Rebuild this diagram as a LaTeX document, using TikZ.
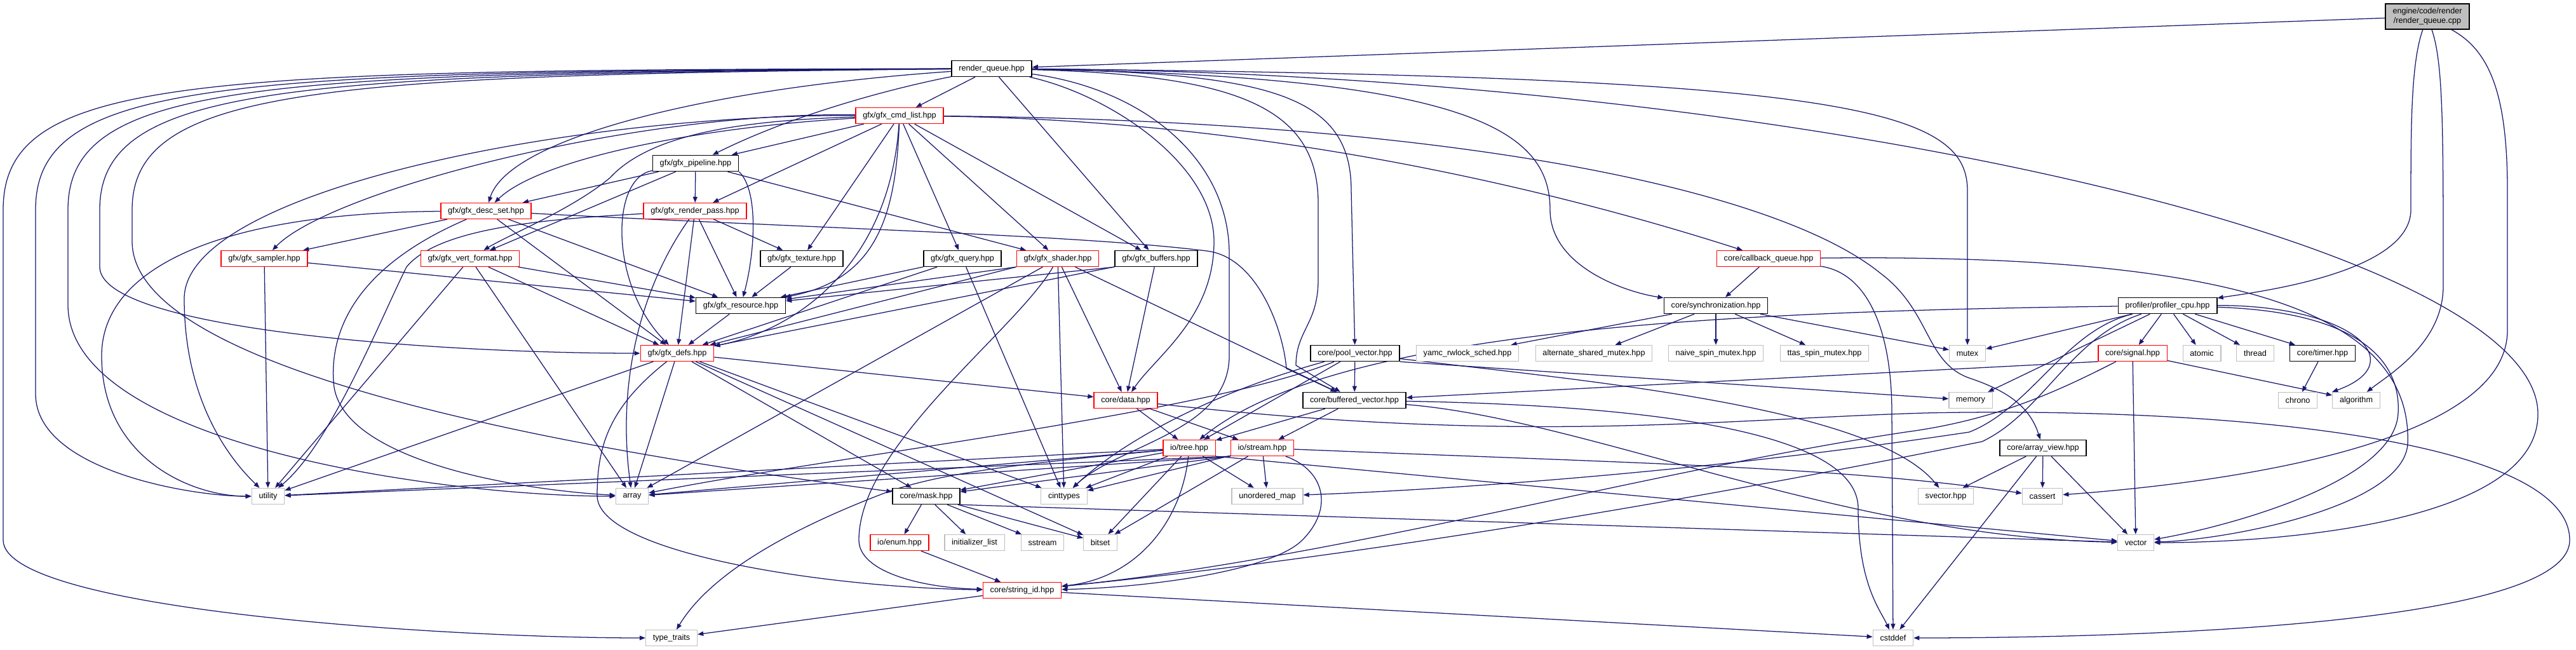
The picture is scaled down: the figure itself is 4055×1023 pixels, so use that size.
\documentclass[tikz,border=0pt]{standalone}
\usepackage{fontspec}
\setmainfont{Liberation Sans}
\usetikzlibrary{arrows.meta,backgrounds}
\definecolor{edgeblue}{HTML}{191970}
\definecolor{sysgray}{HTML}{BFBFBF}

\begin{document}
\begin{tikzpicture}[x=0.025cm, y=-0.025cm,
  nd/.style={rectangle, draw, fill=white, font=\fontsize{9}{10.5}\selectfont, inner xsep=8pt, inner ysep=0pt, minimum height=0.625cm},
  hdr/.style={nd, draw=black, line width=1.1pt},
  trunc/.style={nd, draw=red, line width=0.9pt},
  sys/.style={nd, draw=sysgray, line width=0.9pt},
  dep/.style={draw=edgeblue, line width=0.9pt, -{Triangle[length=6.5pt,width=5pt]}}]
\useasboundingbox (0,0) rectangle (4055,1023);

\node[nd, fill=sysgray, draw=black, line width=1.1pt, align=center, minimum height=1cm] (cpp) at (3821,26) {engine/code/render\\/render\_queue.cpp};
\node[hdr] (rqh) at (1561,108) {render\_queue.hpp};
\node[trunc] (cmd) at (1416,182) {gfx/gfx\_cmd\_list.hpp};
\node[hdr] (pipe) at (1095,257) {gfx/gfx\_pipeline.hpp};
\node[trunc] (desc) at (765,332) {gfx/gfx\_desc\_set.hpp};
\node[trunc] (rpass) at (1094,332) {gfx/gfx\_render\_pass.hpp};
\node[trunc] (sampler) at (416,407) {gfx/gfx\_sampler.hpp};
\node[trunc] (vfmt) at (740,407) {gfx/gfx\_vert\_format.hpp};
\node[hdr] (tex) at (1262,407) {gfx/gfx\_texture.hpp};
\node[hdr] (query) at (1515,407) {gfx/gfx\_query.hpp};
\node[trunc] (shader) at (1665,407) {gfx/gfx\_shader.hpp};
\node[hdr] (buffers) at (1820,407) {gfx/gfx\_buffers.hpp};
\node[trunc] (cbq) at (2784,407) {core/callback\_queue.hpp};
\node[hdr] (res) at (1166,481) {gfx/gfx\_resource.hpp};
\node[hdr] (sync) at (2701,481) {core/synchronization.hpp};
\node[hdr] (prof) at (3412,481) {profiler/profiler\_cpu.hpp};
\node[trunc] (defs) at (1066,556) {gfx/gfx\_defs.hpp};
\node[hdr] (pool) at (2133,556) {core/pool\_vector.hpp};
\node[sys] (yamc) at (2310,556) {yamc\_rwlock\_sched.hpp};
\node[sys] (alt) at (2509,556) {alternate\_shared\_mutex.hpp};
\node[sys] (naive) at (2701,556) {naive\_spin\_mutex.hpp};
\node[sys] (ttas) at (2872,556) {ttas\_spin\_mutex.hpp};
\node[sys] (mutex) at (3097,556) {mutex};
\node[trunc] (signal) at (3357,556) {core/signal.hpp};
\node[sys] (atomic) at (3466,556) {atomic};
\node[sys] (thread) at (3550,556) {thread};
\node[hdr] (timer) at (3656,556) {core/timer.hpp};
\node[trunc] (data) at (1772,630) {core/data.hpp};
\node[hdr] (bufv) at (2132,630) {core/buffered\_vector.hpp};
\node[sys] (memory) at (3102,630) {memory};
\node[sys] (chrono) at (3617,630) {chrono};
\node[sys] (algo) at (3709,630) {algorithm};
\node[trunc] (tree) at (1872,705) {io/tree.hpp};
\node[trunc] (stream) at (1987,705) {io/stream.hpp};
\node[hdr] (aview) at (3216,705) {core/array\_view.hpp};
\node[sys] (utility) at (422,781) {utility};
\node[sys] (array) at (995,781) {array};
\node[hdr] (mask) at (1458,781) {core/mask.hpp};
\node[sys] (cint) at (1675,781) {cinttypes};
\node[sys] (umap) at (1995,781) {unordered\_map};
\node[sys] (svec) at (3063,781) {svector.hpp};
\node[sys] (cassert) at (3215,781) {cassert};
\node[trunc] (enum) at (1416,854) {io/enum.hpp};
\node[sys] (initl) at (1534,854) {initializer\_list};
\node[sys] (sstream) at (1641,854) {sstream};
\node[sys] (bitset) at (1732,854) {bitset};
\node[sys] (vector) at (3362,854) {vector};
\node[trunc] (sid) at (1609,929) {core/string\_id.hpp};
\node[sys] (ttraits) at (1057,1004) {type\_traits};
\node[sys] (cstddef) at (2980,1004) {cstddef};

\begin{scope}[on background layer]
\fill[white] (0,0) rectangle (4055,1023);
\foreach \a/\b in {cpp/rqh,rqh/cmd,rqh/buffers,cmd/pipe,cmd/rpass,cmd/tex,cmd/query,cmd/shader,cmd/buffers,pipe/rpass,pipe/desc,pipe/vfmt,pipe/shader,rpass/tex,rpass/res,rpass/defs,desc/sampler,desc/res,desc/defs,sampler/res,sampler/utility,vfmt/defs,vfmt/utility,vfmt/array,vfmt/res,tex/res,query/res,query/defs,query/cint,shader/cint,shader/data,shader/array,shader/bufv,buffers/data,buffers/defs,res/defs,cbq/sync,sync/yamc,sync/alt,sync/naive,sync/ttas,sync/mutex,prof/mutex,prof/memory,prof/signal,prof/atomic,prof/thread,prof/timer,timer/chrono,defs/data,defs/mask,defs/bitset,defs/cint,defs/array,defs/utility,data/tree,data/stream,pool/bufv,pool/tree,bufv/tree,bufv/stream,tree/utility,tree/array,tree/mask,tree/cint,tree/umap,tree/bitset,stream/umap,stream/cint,stream/bitset,mask/enum,mask/initl,mask/sstream,mask/bitset,enum/sid,sid/ttraits,sid/cstddef,signal/vector,signal/algo,aview/svec,aview/cassert,aview/vector,aview/cstddef}
  \draw[dep] (\a) -- (\b);
\draw[dep] (shader.south west) -- (res);
\draw[dep] (shader.south west) -- (defs);
\draw[dep] (buffers.south west) -- (res);
\draw[dep] (pool.south east) -- (memory);
\draw[dep] (tree.south east) -- (vector);
\draw[dep] (stream.south west) -- (utility);
\draw[dep] (stream.south west) -- (array);
\draw[dep] (stream.south west) -- (mask);
\draw[dep] (mask.south east) -- (vector);
\draw[dep] (signal.south west) -- (bufv);

\draw[dep] (rqh) .. controls (300,110) and (5,120) .. (5,330) -- (5,850) .. controls (5,960) and (700,1004) .. (ttraits);
\draw[dep] (rqh) .. controls (350,112) and (56,125) .. (56,330) -- (56,620) .. controls (56,740) and (300,781) .. (utility);
\draw[dep] (rqh) .. controls (400,114) and (107,130) .. (107,330) -- (107,480) .. controls (107,700) and (700,781) .. (array);
\draw[dep] (rqh) .. controls (450,116) and (157,135) .. (157,330) -- (157,420) .. controls (157,520) and (700,556) .. (defs);
\draw[dep] (rqh) .. controls (500,118) and (208,140) .. (208,330) -- (208,380) .. controls (208,600) and (1000,720) .. (mask);
\draw[dep] (rqh) .. controls (1400,140) and (1250,180) .. (pipe);
\draw[dep] (rqh) .. controls (1100,140) and (800,220) .. (desc);
\draw[dep] (rqh) .. controls (1750,150) and (1911,260) .. (1911,380) .. controls (1911,500) and (1820,560) .. (data);
\draw[dep] (rqh) .. controls (1800,140) and (1935,250) .. (1935,400) -- (1935,560) .. controls (1935,680) and (1760,700) .. (cint);
\draw[dep] (rqh) .. controls (2000,115) and (2127,150) .. (2127,300) -- (pool);
\draw[dep] (rqh) .. controls (1950,118) and (2075,170) .. (2075,320) -- (2075,440) .. controls (2075,510) and (2040,520) .. (2040,575) -- (bufv);
\draw[dep] (rqh) .. controls (2300,120) and (2440,200) .. (2440,330) .. controls (2440,420) and (2560,460) .. (sync);
\draw[dep] (rqh) .. controls (2900,120) and (3097,170) .. (3097,300) -- (mutex);
\draw[dep] (rqh) .. controls (2800,115) and (3990,380) .. (3995,650) .. controls (3998,820) and (3600,854) .. (vector);

\draw[dep] (cmd) .. controls (1000,175) and (520,300) .. (sampler);
\draw[dep] (cmd) .. controls (900,180) and (290,300) .. (290,470) .. controls (290,650) and (380,740) .. (utility);
\draw[dep] (cmd) .. controls (1100,200) and (850,250) .. (desc);
\draw[dep] (cmd) .. controls (1150,190) and (1020,215) .. (960,280) .. controls (900,330) and (800,370) .. (vfmt);
\draw[dep] (cmd) .. controls (1410,340) and (1380,440) .. (res);
\draw[dep] (cmd) .. controls (1400,420) and (1250,520) .. (defs);
\draw[dep] (cmd) .. controls (2000,190) and (2450,300) .. (cbq);
\draw[dep] (cmd) .. controls (2300,190) and (2800,300) .. (2960,430) .. controls (3040,490) and (3030,570) .. (3100,595) .. controls (3160,615) and (3195,640) .. (aview);

\draw[dep] (pipe.south east) .. controls (1195,300) and (1188,400) .. (res);
\draw[dep] (pipe) .. controls (960,280) and (960,450) .. (defs);
\draw[dep] (rpass) .. controls (1010,450) and (970,600) .. (array);
\draw[dep] (rpass) .. controls (850,345) and (690,360) .. (640,420) .. controls (600,500) and (520,700) .. (utility);
\draw[dep] (desc) .. controls (350,335) and (160,420) .. (160,560) .. controls (160,720) and (300,781) .. (utility);
\draw[dep] (desc) .. controls (560,420) and (520,520) .. (525,600) .. controls (530,720) and (800,770) .. (array);
\draw[dep] (desc) .. controls (1300,360) and (1700,370) .. (1900,395) .. controls (1980,405) and (2020,520) .. (2025,580) -- (bufv);

\draw[dep] (cbq) .. controls (2940,430) and (2978,520) .. (2978,650) -- (cstddef);
\draw[dep] (cbq) .. controls (3450,400) and (3800,470) .. (3790,700) .. controls (3780,800) and (3500,850) .. (vector);

\draw[dep] (prof) .. controls (2700,490) and (2100,520) .. (tree);
\draw[dep] (prof) .. controls (3250,520) and (3200,640) .. (3100,680) .. controls (2700,740) and (2300,770) .. (umap);
\draw[dep] (prof) .. controls (3260,530) and (3215,650) .. (3120,695) .. controls (2600,800) and (2100,880) .. (sid);
\draw[dep] (prof) .. controls (3700,480) and (3800,570) .. (algo.north west);
\draw[dep] (prof) .. controls (3700,490) and (3780,560) .. (3775,650) .. controls (3770,760) and (3500,830) .. (vector);
\draw[dep] (signal) .. controls (3250,610) and (3150,660) .. (3000,680) .. controls (2600,740) and (2100,880) .. (sid);

\draw[dep] (pool) .. controls (1900,650) and (1300,720) .. (array);
\draw[dep] (pool) .. controls (1900,620) and (1760,700) .. (cint);
\draw[dep] (pool) .. controls (2500,600) and (2950,640) .. (svec);
\draw[dep] (bufv) .. controls (2500,660) and (2900,845) .. (vector);
\draw[dep] (bufv) .. controls (2700,640) and (2925,700) .. (2925,800) .. controls (2925,920) and (2960,960) .. (cstddef);
\draw[dep] (data) .. controls (2400,700) and (2700,660) .. (3030,650) .. controls (3500,640) and (4045,690) .. (4045,850) .. controls (4045,990) and (3300,1004) .. (cstddef);

\draw[dep] (tree) .. controls (1600,730) and (1480,745) .. (1395,775) .. controls (1250,830) and (1120,900) .. (ttraits);
\draw[dep] (tree) .. controls (1860,820) and (1790,910) .. (sid);
\draw[dep] (stream) .. controls (2085,740) and (2100,800) .. (2050,850) .. controls (2000,900) and (1800,925) .. (sid);
\draw[dep] (stream) .. controls (2600,730) and (2900,735) .. (cassert);
\draw[dep] (shader) .. controls (1600,520) and (1352,700) .. (1352,850) .. controls (1352,900) and (1450,925) .. (sid);
\draw[dep] (defs) .. controls (960,640) and (940,700) .. (940,780) .. controls (940,870) and (1300,925) .. (sid);

\draw[dep] (cpp) .. controls (3795,100) and (3795,200) .. (3795,330) .. controls (3795,430) and (3550,460) .. (prof);
\draw[dep] (cpp) .. controls (3846,100) and (3846,200) .. (3846,450) .. controls (3846,540) and (3760,590) .. (algo);
\draw[dep] (cpp) .. controls (3920,80) and (3947,150) .. (3947,300) -- (3947,520) .. controls (3947,700) and (3500,760) .. (cassert);
\end{scope}
\end{tikzpicture}
\end{document}
